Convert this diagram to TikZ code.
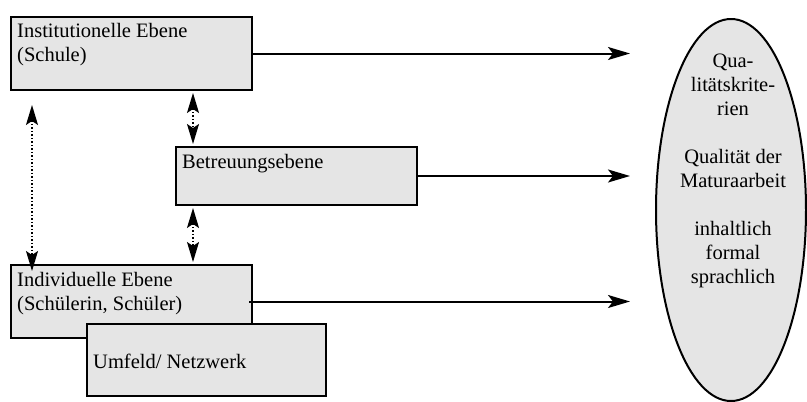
\documentclass[tikz,border=0pt]{standalone}
\usepackage{fontspec}
\setmainfont{Liberation Serif}
\usetikzlibrary{arrows.meta, positioning, shapes.geometric}

\begin{document}
\begin{tikzpicture}[x=1pt, y=-1pt, font=\fontsize{20.5}{24}\selectfont]
\useasboundingbox (0,0) rectangle (807,402);

\tikzstyle{ebene}=[draw, line width=2pt, fill=gray!20, inner sep=0pt, anchor=north west]
\tikzstyle{txt}=[inner sep=0pt, anchor=north west, align=left]
\tikzstyle{pfeil}=[line width=2pt, -{Stealth[length=22pt,width=13pt,inset=5pt]}]
\tikzstyle{doppel}=[line width=1.5pt, dotted, {Stealth[length=20pt,width=12pt,inset=4pt]}-{Stealth[length=20pt,width=12pt,inset=4pt]}]

% Ebenen
\node[ebene, minimum width=241pt, minimum height=73pt] (inst) at (10,16) {};
\node[txt] (instT) at ([xshift=7pt,yshift=-7pt]inst.north west) {Institutionelle Ebene\\(Schule)};

\node[ebene, minimum width=241pt, minimum height=58pt] (betr) at (175,146) {};
\node[txt] (betrT) at ([xshift=7pt,yshift=-8pt]betr.north west) {Betreuungsebene};

\node[ebene, minimum width=241pt, minimum height=73pt] (indiv) at (10,264) {};
\node[txt] (indivT) at ([xshift=7pt,yshift=-8pt]indiv.north west) {Individuelle Ebene\\(Schülerin, Schüler)};

\node[ebene, minimum width=239pt, minimum height=72pt] (umf) at (86,323) {};
\node[txt] (umfT) at ([xshift=7pt,yshift=-31pt]umf.north west) {Umfeld/ Netzwerk};

% Qualitaet
\node[ellipse, draw, line width=2pt, fill=gray!20, minimum width=150pt, minimum height=382pt, inner sep=0pt] (krit) at (731,210) {};
\node[inner sep=0pt, anchor=north, align=center] (kritT) at (733,53.5) {Qua-\\litätskrite-\\rien\\[24pt]Qualität der\\Maturaarbeit\\[24pt]inhaltlich\\formal\\sprachlich};

% Ebenen -> Qualitaet
\coordinate (ziel) at (630,0);
\draw[pfeil] (inst.east) -- (inst.east -| ziel);
\draw[pfeil] (betr.east) -- (betr.east -| ziel);
\draw[pfeil] ([xshift=-4pt]indiv.east) -- (indiv.east -| ziel);

% Wechselwirkungen
\coordinate (mitte) at ([xshift=18pt]betr.north west);
\draw[doppel] ([yshift=-2pt]mitte |- inst.south) -- ([yshift=2pt]mitte);
\draw[doppel] ([yshift=-2pt]mitte |- betr.south) -- ([yshift=2pt]mitte |- indiv.north);
\draw[doppel] ([xshift=22pt,yshift=-14pt]inst.south west) -- ([xshift=22pt,yshift=-7pt]indiv.north west);

\end{tikzpicture}
\end{document}
